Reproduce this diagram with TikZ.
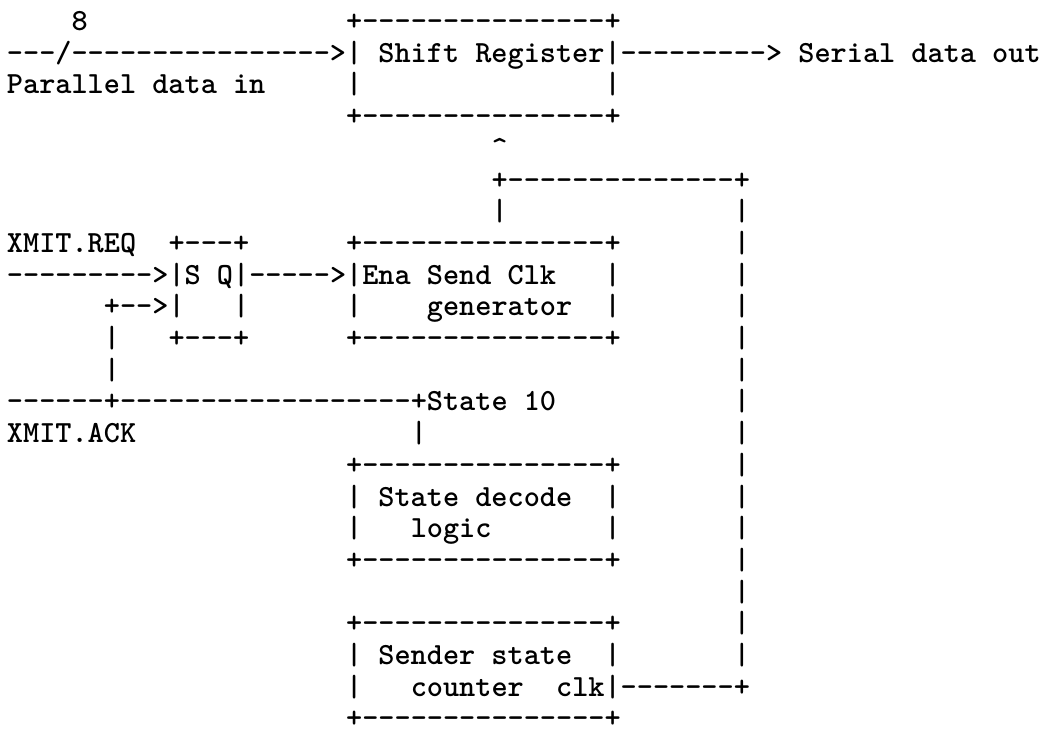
\documentclass[tikz,border=0pt]{standalone}
\usepackage{tikz}
\newcommand{\asciifont}{\fontsize{30.76}{32}\selectfont\ttfamily\bfseries}
\newcommand{\dashrun}[1]{\foreach \k in {1,...,#1}{-\kern0pt}}
\tikzset{
  ascii/.style={anchor=base west, inner sep=0pt, outer sep=0pt, yshift=-7.5pt, font=\asciifont},
}

\begin{document}
\begin{tikzpicture}[x=16.15pt, y=-31.7pt]
\useasboundingbox (-0.433,-0.7256) rectangle (64.33,22.429);
% shift register and parallel / serial data
\node[ascii] (buswidth) at (4,0) {8};
\node[ascii] (shifttop) at (21,0) {+\dashrun{15}+};
\node[ascii] (parbus) at (0,1) {\dashrun{3}/\dashrun{16}>};
\node[ascii] (shiftreg) at (21,1) {| Shift Register|};
\node[ascii] (serout) at (38,1) {\dashrun{9}> Serial data out};
\node[ascii] (parin) at (0,2) {Parallel data in};
\node[ascii] (shiftl) at (21,2) {|};
\node[ascii] (shiftr) at (37,2) {|};
\node[ascii] (shiftbot) at (21,3) {+\dashrun{15}+};
% clock back to the shift register
\node[ascii] (clkhead) at (30,4) {\textasciicircum};
\node[ascii] (clktop) at (30,5) {+\dashrun{14}+};
\node[ascii] (clkup) at (30,6) {|};
\foreach \r in {6,...,20}
  \node[ascii] (clkret\r) at (45,\r) {|};
% request flip-flop and send clock generator
\node[ascii] (req) at (0,7) {XMIT.REQ};
\node[ascii] (fftop) at (10,7) {+\dashrun{3}+};
\node[ascii] (enatop) at (21,7) {+\dashrun{15}+};
\node[ascii] (reqin) at (0,8) {\dashrun{9}>};
\node[ascii] (ffsq) at (10,8) {|S Q|};
\node[ascii] (ffout) at (15,8) {\dashrun{5}>};
\node[ascii] (enasend) at (21,8) {|Ena Send Clk};
\node[ascii] (enar1) at (37,8) {|};
\node[ascii] (ackfb) at (6,9) {+\dashrun{2}>|};
\node[ascii] (ffmid) at (14,9) {|};
\node[ascii] (enal2) at (21,9) {|};
\node[ascii] (enagen) at (26,9) {generator};
\node[ascii] (enar2) at (37,9) {|};
\node[ascii] (ackup1) at (6,10) {|};
\node[ascii] (ffbot) at (10,10) {+\dashrun{3}+};
\node[ascii] (enabot) at (21,10) {+\dashrun{15}+};
\node[ascii] (ackup2) at (6,11) {|};
% acknowledge from state 10
\node[ascii] (ackline) at (0,12) {\dashrun{6}+\dashrun{18}+State 10};
\node[ascii] (ack) at (0,13) {XMIT.ACK};
\node[ascii] (state10) at (25,13) {|};
% state decode logic
\node[ascii] (dectop) at (21,14) {+\dashrun{15}+};
\node[ascii] (decname) at (21,15) {| State decode};
\node[ascii] (decr1) at (37,15) {|};
\node[ascii] (decl2) at (21,16) {|};
\node[ascii] (declogic) at (25,16) {logic};
\node[ascii] (decr2) at (37,16) {|};
\node[ascii] (decbot) at (21,17) {+\dashrun{15}+};
% sender state counter
\node[ascii] (cnttop) at (21,19) {+\dashrun{15}+};
\node[ascii] (cntname) at (21,20) {| Sender state};
\node[ascii] (cntr1) at (37,20) {|};
\node[ascii] (cntl2) at (21,21) {|};
\node[ascii] (cntword) at (25,21) {counter};
\node[ascii] (cntclk) at (34,21) {clk|\dashrun{7}+};
\node[ascii] (cntbot) at (21,22) {+\dashrun{15}+};
\end{tikzpicture}
\end{document}
